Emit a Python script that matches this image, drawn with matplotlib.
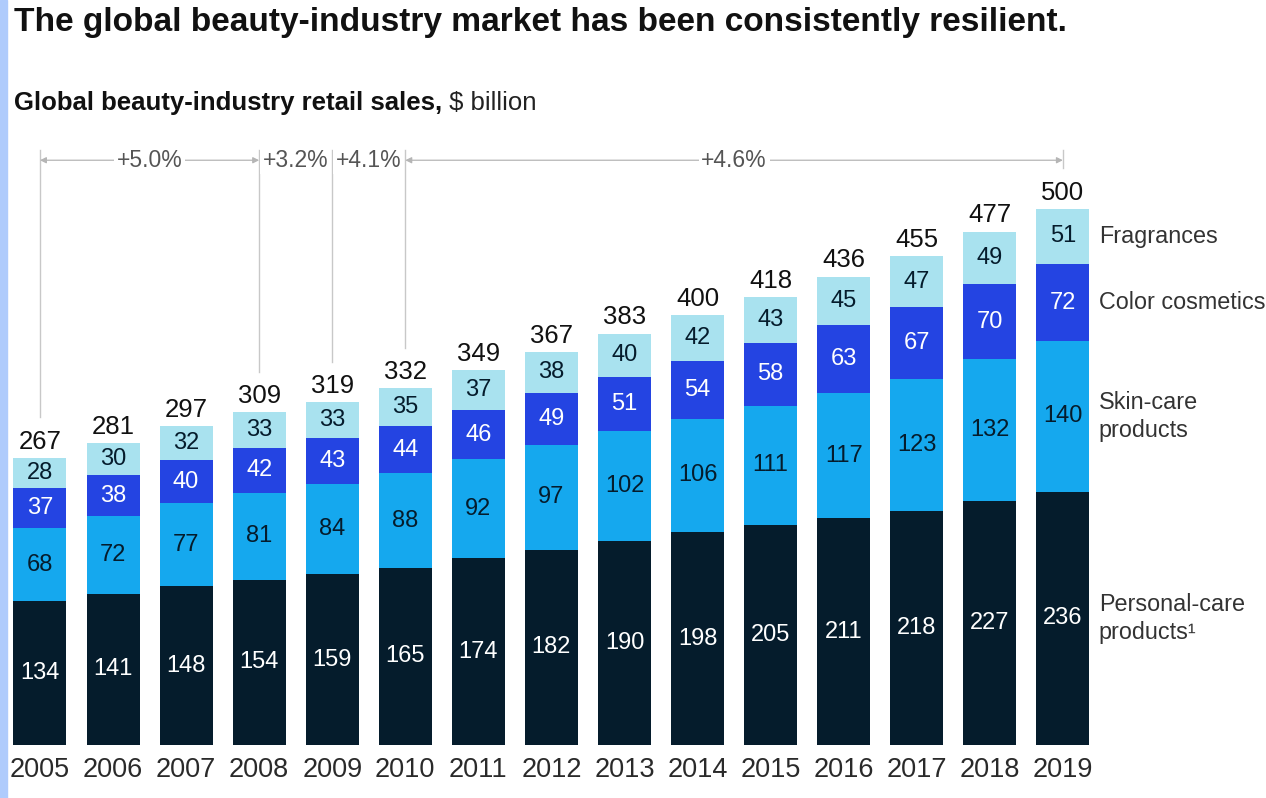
import matplotlib
matplotlib.use("Agg")
import matplotlib.pyplot as plt
from matplotlib.patches import Rectangle

plt.rcParams['font.family'] = ['Liberation Sans', 'DejaVu Sans']

# data
years = ['2005', '2006', '2007', '2008', '2009', '2010', '2011', '2012',
         '2013', '2014', '2015', '2016', '2017', '2018', '2019']
personal = [134, 141, 148, 154, 159, 165, 174, 182, 190, 198, 205, 211, 218, 227, 236]
skin = [68, 72, 77, 81, 84, 88, 92, 97, 102, 106, 111, 117, 123, 132, 140]
color_cos = [37, 38, 40, 42, 43, 44, 46, 49, 51, 54, 58, 63, 67, 70, 72]
fragrances = [28, 30, 32, 33, 33, 35, 37, 38, 40, 42, 43, 45, 47, 49, 51]
totals = [267, 281, 297, 309, 319, 332, 349, 367, 383, 400, 418, 436, 455, 477, 500]

series_names = ['Personal-care\nproducts\u00b9', 'Skin-care\nproducts', 'Color cosmetics', 'Fragrances']
series_vals = [personal, skin, color_cos, fragrances]
series_cols = ['#051C2C', '#15A8EE', '#2444E2', '#A9E2EF']
text_cols = ['white', '#051C2C', 'white', '#051C2C']

# growth spans (start index, end index, label)
cagr = [(0, 3, '+5.0%'), (3, 4, '+3.2%'), (4, 5, '+4.1%'), (5, 14, '+4.6%')]

fig = plt.figure(figsize=(12.66, 7.98), dpi=100)
ax = fig.add_axes([0, 0, 1, 1])
ax.set_xlim(-0.547, 16.78)
ax.set_ylim(-49.35, 693.7)
ax.axis('off')

# light blue strip on the left edge
fig.patches.append(Rectangle((0, 0), 7 / 1266, 1, transform=fig.transFigure,
                             color='#AFCBFC', zorder=0))

x = list(range(len(years)))
bw = 0.725
bottom = [0] * len(years)
for vals, col, tcol in zip(series_vals, series_cols, text_cols):
    ax.bar(x, vals, bw, bottom=bottom, color=col, linewidth=0)
    for i, v in enumerate(vals):
        ax.text(i, bottom[i] + v / 2, str(v), ha='center', va='center',
                color=tcol, fontsize=17)
    bottom = [b + v for b, v in zip(bottom, vals)]

for i, t in enumerate(totals):
    ax.text(i, bottom[i] + 4, str(t), ha='center', va='bottom',
            fontsize=18.5, color='#111111')
    ax.text(i, -23, years[i], ha='center', va='center', fontsize=19.5, color='#2a2a2a')

# labels to the right of the last bar
last = len(years) - 1
b = 0
for name, vals in zip(series_names, series_vals):
    v = vals[last]
    ax.text(last + bw / 2 + 0.13, b + v / 2, name, ha='left', va='center',
            fontsize=16.8, color='#333333', linespacing=1.3)
    b += v

# growth brackets
yl = 544.5
gray = '#C8C8C8'
for s, e, lab in cagr:
    ax.plot([s, s], [554, totals[s] + 38], color=gray, lw=1)
    if e - s > 1:
        ax.annotate('', xy=(s, yl), xytext=(e, yl),
                    arrowprops=dict(arrowstyle='<|-|>', color='#B5B5B5', lw=0.9,
                                    mutation_scale=9, shrinkA=0, shrinkB=0))
    ax.text((s + e) / 2, yl, lab, ha='center', va='center', fontsize=16.5, color='#555555',
            bbox=dict(facecolor='white', edgecolor='none', pad=2))
ax.plot([last, last], [554, 537], color=gray, lw=1)

# titles
fig.text(14 / 1266, 1 - 23 / 798, 'The global beauty-industry market has been consistently resilient.',
         ha='left', va='center', fontsize=24.1, fontweight='bold', color='#111111')
sub = fig.text(14 / 1266, 1 - 103 / 798, 'Global beauty-industry retail sales,',
               ha='left', va='center', fontsize=18.5, fontweight='bold', color='#111111')
ax.annotate(' $ billion', xy=(1, 0.5), xycoords=sub, ha='left', va='center',
            fontsize=18.5, color='#222222')

fig.savefig('out.png', dpi=100)
